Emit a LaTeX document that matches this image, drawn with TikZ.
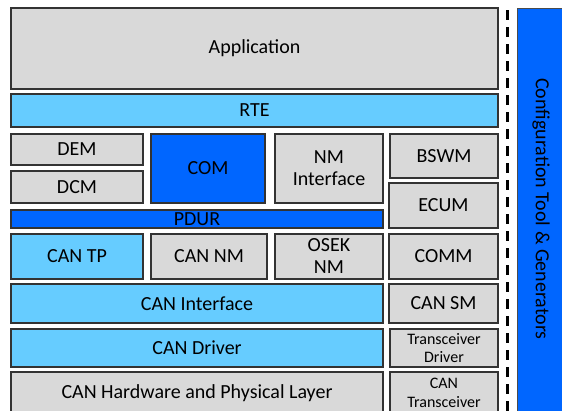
\documentclass[tikz,border=0pt]{standalone}
\usepackage{fontspec}
\setmainfont{Carlito}
\usetikzlibrary{positioning}
\definecolor{greybox}{HTML}{D9D9D9}
\definecolor{lightblue}{HTML}{66CCFF}
\definecolor{darkblue}{HTML}{0066FF}
\tikzset{
    %Define basic layer box
    layer/.style={
           rectangle,
           draw=black!80, line width=1.2pt,
           inner sep=0pt,
           align=center,
           font=\fontsize{20}{22}\selectfont},
    greybox/.style={layer, fill=greybox},
    lightbox/.style={layer, fill=lightblue},
    darkbox/.style={layer, fill=darkblue},
    %smaller text for the narrow boxes
    smalltext/.style={font=\fontsize{16}{18.5}\selectfont},
    % Define separator style
    sepline/.style={
           line width=3pt,
           dash pattern=on 10pt off 7pt}
}

\begin{document}
\begin{tikzpicture}[x=1pt, y=-1pt]
\clip (0,0) rectangle (562,410);
\fill[white] (0,0) rectangle (562,410);
%top layers
\node[greybox, minimum width=487pt, minimum height=81pt] (app) at (254.5,48.5) {Application};
\node[lightbox, minimum width=487pt, minimum height=33pt] (rte) at (254.5,110.5) {RTE};
%services and communication
\node[greybox, minimum width=132pt, minimum height=31pt] (dem) at (77,149.5) {DEM};
\node[greybox, minimum width=132pt, minimum height=32pt] (dcm) at (77,187) {DCM};
\node[darkbox, minimum width=114pt, minimum height=69pt] (com) at (208,168.5) {COM};
\node[greybox, minimum width=108pt, minimum height=69pt] (nmif) at (329,168.5) {NM\\Interface};
\node[greybox, minimum width=108pt, minimum height=44pt] (bswm) at (444,156) {BSWM};
\node[greybox, minimum width=109pt, minimum height=45pt] (ecum) at (443.5,205.5) {ECUM};
\node[darkbox, minimum width=372pt, minimum height=18pt] (pdur) at (197,219) {PDUR};
%CAN stack
\node[lightbox, minimum width=132pt, minimum height=45pt] (cantp) at (77,256.5) {CAN TP};
\node[greybox, minimum width=116pt, minimum height=45pt] (cannm) at (209,256.5) {CAN NM};
\node[greybox, minimum width=108pt, minimum height=45pt, font=\fontsize{20}{22}\selectfont] (oseknm) at (329,256.5) {OSEK\\NM};
\node[greybox, minimum width=109pt, minimum height=45pt] (comm) at (443.5,256.5) {COMM};
\node[lightbox, minimum width=372pt, minimum height=39pt] (canif) at (197,303.5) {CAN Interface};
\node[greybox, minimum width=109pt, minimum height=39pt] (cansm) at (443.5,303.5) {CAN SM};
\node[lightbox, minimum width=372pt, minimum height=38pt] (candrv) at (197,348) {CAN Driver};
\node[greybox, smalltext, minimum width=108pt, minimum height=38pt] (trcvdrv) at (444,348) {Transceiver\\Driver};
\node[greybox, minimum width=372pt, minimum height=42pt] (canhw) at (197,393) {CAN Hardware and Physical Layer};
\node[greybox, smalltext, minimum width=108pt, minimum height=42pt] (cantrcv) at (444,393) {CAN\\Transceiver};
%configuration tool
\node[darkbox, draw=black!70, line width=0.8pt, minimum width=50pt, minimum height=412pt, anchor=north west] (config) at (517,8) {};
\node[rotate=-90, font=\fontsize{20}{22}\selectfont] (configlabel) at (541,209) {Configuration Tool \& Generators};
\coordinate (septop) at (507.5,10);
\coordinate (sepbot) at (507.5,415);
\draw[sepline] (septop) -- (sepbot);
\end{tikzpicture}
\end{document}
